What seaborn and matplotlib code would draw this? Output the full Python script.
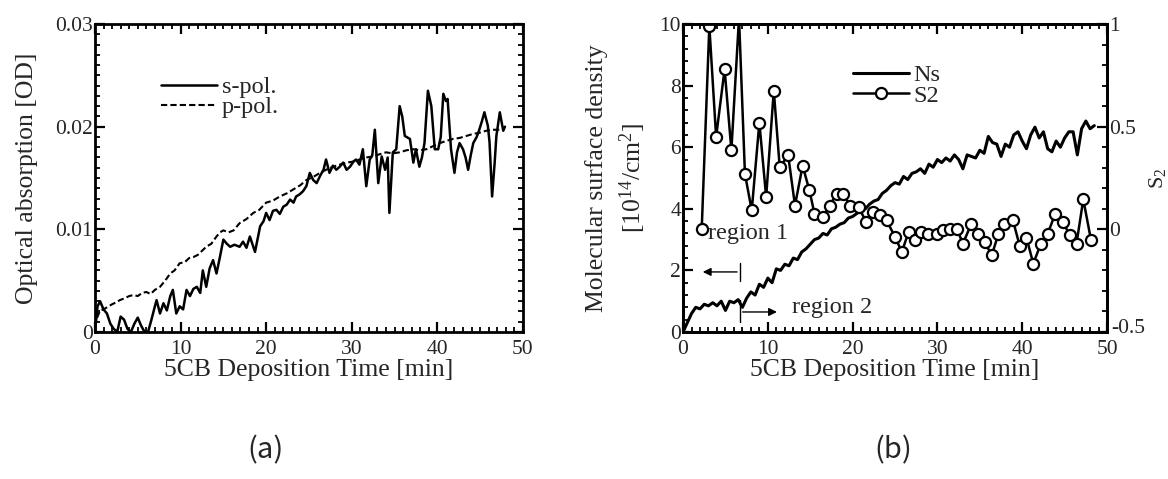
import matplotlib
matplotlib.use("Agg")
import matplotlib.pyplot as plt
import matplotlib.transforms as mtransforms
from matplotlib.ticker import MultipleLocator, FuncFormatter, FixedLocator
from matplotlib.lines import Line2D
import seaborn as sns

# panel (a): optical absorption vs deposition time
s_time = [0.0, 0.3, 0.6, 1.0, 1.4, 1.8, 2.2, 2.6, 3.0, 3.4, 3.8, 4.2, 4.6, 5.0, 5.4, 5.8, 6.2, 6.6,
          7.0, 7.2, 7.6, 8.0, 8.4, 8.8, 9.1, 9.5, 9.9, 10.3, 10.7, 11.1, 11.5, 11.9, 12.3, 12.6,
          13.0, 13.4, 13.8, 14.2, 14.6, 15.0, 15.4, 15.8, 16.3, 16.9, 17.3, 17.7, 18.1, 18.7,
          19.3, 19.7, 20.0, 20.4, 20.8, 21.2, 21.6, 22.0, 22.4, 22.8, 23.2, 23.5, 23.9, 24.3,
          24.7, 25.1, 25.5, 25.9, 26.3, 26.7, 27.0, 27.4, 27.8, 28.2, 28.6, 29.0, 29.4, 29.8,
          30.2, 30.5, 30.9, 31.3, 31.7, 32.1, 32.4, 32.7, 33.1, 33.5, 33.9, 34.2, 34.4, 34.8,
          35.2, 35.6, 35.9, 36.2, 36.8, 37.2, 37.5, 37.9, 38.2, 38.5, 38.9, 39.3, 39.7, 40.1,
          40.4, 40.7, 41.0, 41.2, 41.6, 42.0, 42.3, 42.6, 43.0, 43.3, 43.6, 43.9, 44.2, 44.6,
          44.9, 45.2, 45.5, 45.9, 46.1, 46.4, 46.7, 46.9, 47.3, 47.5, 47.7, 47.9]
s_pol = [0.0, 0.0025, 0.003, 0.0022, 0.0018, 0.0008, 0.0003, 0.0, 0.0015, 0.0012, 0.0003, 0.0,
         0.0008, 0.0014, 0.0006, 0.0, 0.0, 0.0012, 0.0025, 0.0031, 0.0018, 0.0028, 0.0021,
         0.0035, 0.0041, 0.0018, 0.0025, 0.0022, 0.0041, 0.0035, 0.0042, 0.0044, 0.0038, 0.006,
         0.0044, 0.0062, 0.007, 0.0057, 0.0073, 0.009, 0.0086, 0.0083, 0.0085, 0.0083, 0.0088,
         0.0082, 0.0093, 0.0078, 0.0103, 0.0108, 0.0116, 0.0109, 0.0118, 0.0119, 0.0115, 0.0122,
         0.0124, 0.0129, 0.0126, 0.0132, 0.0134, 0.0137, 0.0142, 0.0155, 0.0148, 0.0145, 0.0152,
         0.0158, 0.0168, 0.0155, 0.0162, 0.0158, 0.0161, 0.0165, 0.0158, 0.0161, 0.0166, 0.0168,
         0.0163, 0.0178, 0.0142, 0.0168, 0.0172, 0.0197, 0.0145, 0.0171, 0.0158, 0.0170, 0.0116,
         0.0175, 0.0178, 0.022, 0.021, 0.0191, 0.0188, 0.0165, 0.0178, 0.0161, 0.0170, 0.0184,
         0.0235, 0.022, 0.0178, 0.0178, 0.0190, 0.0232, 0.0225, 0.0227, 0.0178, 0.0155, 0.0175,
         0.0184, 0.0178, 0.0170, 0.0158, 0.0172, 0.0184, 0.0190, 0.0197, 0.0205, 0.0214, 0.0201,
         0.0185, 0.0132, 0.0165, 0.0191, 0.0214, 0.0205, 0.0196, 0.0200]

p_time = [0.0, 0.3, 0.6, 1.0, 1.4, 2.0, 2.5, 2.9, 3.5, 4.0, 4.5, 5.0, 5.5, 6.0, 6.5, 7.0, 7.6,
          8.2, 8.8, 9.3, 9.9, 10.5, 11.0, 11.5, 12.0, 12.5, 13.0, 13.6, 14.2, 14.6, 15.0, 15.6,
          16.2, 16.9, 17.7, 18.5, 19.2, 20.0, 20.8, 21.6, 22.4, 23.2, 24.0, 24.7, 25.5, 26.3,
          27.0, 27.8, 28.6, 29.4, 30.2, 30.9, 31.7, 32.5, 33.2, 34.0, 34.8, 35.6, 36.4, 37.2,
          38.0, 38.7, 39.5, 40.3, 41.0, 41.8, 42.6, 43.4, 44.2, 44.9, 45.7, 46.5, 47.1, 47.7]
p_pol = [0.0005, 0.0015, 0.0021, 0.0022, 0.0024, 0.0027, 0.0029, 0.0031, 0.0033, 0.0035, 0.0036,
         0.0035, 0.0038, 0.0039, 0.0037, 0.0041, 0.0044, 0.005, 0.0057, 0.006, 0.0067, 0.0068,
         0.0072, 0.0073, 0.0075, 0.0079, 0.0083, 0.0086, 0.0093, 0.0097, 0.0099, 0.0097, 0.0099,
         0.0106, 0.011, 0.0116, 0.0119, 0.0126, 0.0128, 0.0132, 0.0135, 0.0139, 0.0143, 0.0148,
         0.0151, 0.0155, 0.0158, 0.0161, 0.0163, 0.0165, 0.0166, 0.0168, 0.017, 0.0171, 0.0173,
         0.0175, 0.0174, 0.0175, 0.0177, 0.0178, 0.0177, 0.0178, 0.0181, 0.0184, 0.0186, 0.0188,
         0.0189, 0.0191, 0.0193, 0.0194, 0.0196, 0.0197, 0.0197, 0.0197]

# panel (b): molecular surface density (every 0.5 min) and order parameter S2
ns_time = [i * 0.5 for i in range(98)]
ns = [0.0, 0.3, 0.6, 0.8, 0.75, 0.9, 0.85, 0.95, 0.85, 1.0, 0.7, 1.0, 0.95, 1.05, 0.8, 1.1,
      1.3, 1.2, 1.55, 1.45, 1.75, 1.6, 2.05, 2.0, 2.2, 2.15, 2.4, 2.35, 2.6, 2.7, 2.85, 3.0,
      3.05, 3.2, 3.15, 3.35, 3.4, 3.5, 3.55, 3.7, 3.75, 3.85, 3.95, 4.0, 4.15, 4.25, 4.3, 4.5,
      4.6, 4.75, 4.85, 4.8, 5.05, 4.95, 5.15, 5.2, 5.3, 5.15, 5.45, 5.35, 5.6, 5.5, 5.65, 5.55,
      5.75, 5.6, 5.3, 5.75, 5.7, 5.65, 5.9, 5.8, 6.35, 6.15, 6.1, 5.7, 6.1, 6.0, 6.4, 6.5,
      6.2, 5.95, 6.4, 6.65, 6.3, 6.5, 5.95, 5.85, 6.2, 6.0, 6.3, 6.5, 6.5, 5.75, 6.6, 6.85,
      6.6, 6.7]

s2_time = [2.2, 3.1, 3.9, 4.9, 5.7, 6.6, 7.3, 8.1, 9.0, 9.8, 10.7, 11.4, 12.4, 13.2, 14.1, 14.9,
           15.5, 16.5, 17.3, 18.1, 18.9, 19.7, 20.7, 21.6, 22.4, 23.2, 24.0, 25.0, 25.8, 26.6,
           27.3, 28.1, 28.9, 29.9, 30.7, 31.5, 32.3, 33.0, 34.0, 34.8, 35.6, 36.4, 37.2, 37.9,
           38.9, 39.7, 40.5, 41.3, 42.2, 43.0, 43.9, 44.8, 45.6, 46.4, 47.2, 48.1]
s2 = [0.0, 0.99, 0.45, 0.78, 0.385, 1.03, 0.27, 0.092, 0.52, 0.157, 0.676, 0.303, 0.36, 0.116,
      0.31, 0.19, 0.076, 0.06, 0.116, 0.173, 0.173, 0.116, 0.108, 0.036, 0.084, 0.068, 0.044,
      -0.037, -0.11, -0.013, -0.054, -0.013, -0.021, -0.021, -0.005, 0.003, 0.003, -0.07, 0.027,
      -0.021, -0.062, -0.127, -0.021, 0.027, 0.044, -0.08, -0.04, -0.167, -0.07, -0.021, 0.076,
      0.036, -0.029, -0.07, 0.146, -0.05]

s2_ticks = [-0.5, 0, 0.5, 1]

sns.set_theme(style="ticks")
plt.rcParams["font.family"] = ["Liberation Serif", "DejaVu Serif"]
plt.rcParams["mathtext.fontset"] = "custom"
plt.rcParams["mathtext.rm"] = "Liberation Serif"
plt.rcParams["mathtext.it"] = "Liberation Serif:italic"

fig = plt.figure(figsize=(11.68, 4.79), dpi=100)
ax1 = fig.add_axes([0.0813, 0.3069, 0.3664, 0.643])
ax2 = fig.add_axes([0.5848, 0.3069, 0.3630, 0.643])
ax3 = ax2.twinx()

tick_fs = 15.5
label_fs = 18.5
text_fs = 17.5


def style_axis(ax, right=True):
    for sp in ax.spines.values():
        sp.set_linewidth(2)
        sp.set_color("black")
        sp.set_visible(True)
    ax.tick_params(which="both", direction="in", top=True, right=right, color="black",
                   labelsize=tick_fs, pad=1.5)
    ax.tick_params(axis="x", pad=5.5)
    ax.tick_params(which="major", length=7, width=1.6)
    ax.tick_params(which="minor", length=3.5, width=1.3)


def fmt(v, pos):
    return "0" if abs(v) < 1e-12 else f"{v:g}"


# ---- (a)
sns.lineplot(x=s_time, y=s_pol, ax=ax1, color="black", lw=1.8, label="s-pol.")
sns.lineplot(x=p_time, y=p_pol, ax=ax1, color="black", lw=1.5, linestyle=(0, (3, 1.5)),
             label="p-pol.")
ax1.set_xlim(0, 50)
ax1.set_ylim(0, 0.03)
ax1.xaxis.set_major_locator(MultipleLocator(10))
ax1.xaxis.set_minor_locator(MultipleLocator(1))
ax1.yaxis.set_major_locator(MultipleLocator(0.01))
ax1.yaxis.set_minor_locator(MultipleLocator(0.001))
ax1.yaxis.set_major_formatter(FuncFormatter(fmt))
style_axis(ax1)
ax1.set_xlabel("5CB Deposition Time [min]", fontsize=label_fs, labelpad=0)
ax1.set_ylabel("Optical absorption [OD]", fontsize=label_fs, labelpad=12)
ax1.legend(loc="upper left", bbox_to_anchor=(0.115, 0.885), frameon=False, fontsize=text_fs,
           handlelength=2.3, handletextpad=0.2, labelspacing=-0.1, borderpad=0.2)

# ---- (b)
sns.lineplot(x=ns_time, y=ns, ax=ax2, color="black", lw=2.2)
sns.lineplot(x=s2_time, y=s2, ax=ax3, color="black", lw=1.8, marker="o", markersize=8,
             markerfacecolor="white", markeredgecolor="black", markeredgewidth=1.6)
ax2.set_xlim(0, 50)
ax2.set_ylim(0, 10)
ax3.set_ylim(-0.5, 1)
ax2.xaxis.set_major_locator(MultipleLocator(10))
ax2.xaxis.set_minor_locator(MultipleLocator(1))
ax2.yaxis.set_major_locator(MultipleLocator(2))
ax2.yaxis.set_minor_locator(MultipleLocator(0.4))
ax3.yaxis.set_major_locator(FixedLocator(s2_ticks))
ax3.yaxis.set_minor_locator(MultipleLocator(0.1))
ax3.yaxis.set_major_formatter(FuncFormatter(fmt))
style_axis(ax2, right=False)
style_axis(ax3)
ax3.tick_params(which="both", left=False, top=False)
ax2.set_xlabel("5CB Deposition Time [min]", fontsize=label_fs, labelpad=0)
ax2.set_ylabel("Molecular surface density\n[10$^{14}$/cm$^2$]", fontsize=label_fs,
               labelpad=8, linespacing=1.4)
ax3.set_ylabel("S$_2$", fontsize=16, labelpad=1)

# the bottom S2 label sits a little raised, clear of the "50" below it
low_tick = ax3.yaxis.get_major_ticks()[0].label2
low_tick.set_transform(low_tick.get_transform()
                       + mtransforms.ScaledTranslation(0.02, 0.06, fig.dpi_scale_trans))

handles = [Line2D([], [], color="black", lw=2.2),
           Line2D([], [], color="black", lw=1.8, marker="o", markersize=8,
                  markerfacecolor="white", markeredgewidth=1.6)]
ax3.legend(handles, ["Ns", "S2"], loc="upper left", bbox_to_anchor=(0.36, 0.925),
           frameon=False, fontsize=text_fs, handlelength=2.3, handletextpad=0.2,
           labelspacing=-0.05, borderpad=0.2)

# region markers
ax2.annotate("", xy=(2.0, 1.95), xytext=(6.7, 1.95),
             arrowprops=dict(arrowstyle="-|>", color="black", lw=1.0, mutation_scale=12))
ax2.plot([6.7, 6.7], [1.65, 2.25], color="black", lw=1.0)
ax2.text(3.0, 3.2, "region 1", fontsize=text_fs, va="center", ha="left")
ax2.annotate("", xy=(11.4, 0.65), xytext=(6.7, 0.65),
             arrowprops=dict(arrowstyle="-|>", color="black", lw=1.0, mutation_scale=12))
ax2.plot([6.7, 6.7], [0.33, 1.05], color="black", lw=1.0)
ax2.text(12.8, 0.8, "region 2", fontsize=text_fs, va="center", ha="left")

fig.text(0.227, 0.06, "(a)", fontsize=21, ha="center", va="center",
         family=["Noto Sans CJK JP", "DejaVu Sans"])
fig.text(0.7646, 0.06, "(b)", fontsize=21, ha="center", va="center",
         family=["Noto Sans CJK JP", "DejaVu Sans"])

fig.savefig("out.png", dpi=100)
plt.close(fig)
